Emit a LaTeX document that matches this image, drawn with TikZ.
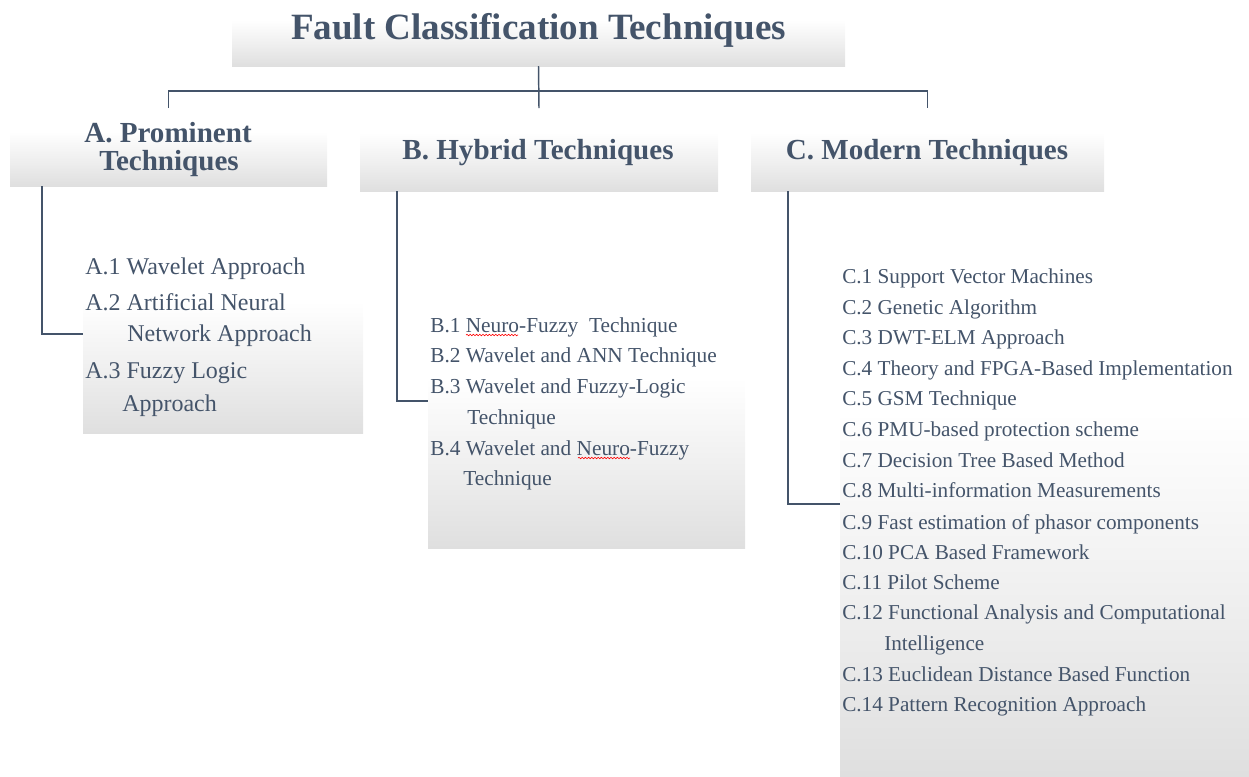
\documentclass[tikz,border=0pt]{standalone}
\usepackage{fontspec}
\setmainfont{Liberation Serif}
\usetikzlibrary{fit,calc,decorations.pathmorphing}
\definecolor{ink}{HTML}{44546A}
\definecolor{boxgray}{HTML}{DFDFDF}
% white over the upper part, then fading softly to light grey at the bottom
\pgfdeclareverticalshading{boxfade}{100bp}{%
  color(0bp)=(boxgray); color(25bp)=(boxgray);
  color(40bp)=(boxgray!55!white); color(60bp)=(white); color(100bp)=(white)}
\tikzset{
  fadebox/.style={inner sep=0pt, outer sep=0pt, draw=none,
    shade, shading=boxfade},
  conn/.style={draw=ink, line width=1.1pt},
  titletext/.style={text=ink, inner sep=0pt, anchor=base,
    font=\fontsize{27.8}{32}\selectfont\bfseries},
  headtext/.style={text=ink, inner sep=0pt, anchor=base,
    font=\fontsize{21.8}{25}\selectfont\bfseries},
  itemA/.style={text=ink, inner sep=0pt, anchor=base west,
    font=\fontsize{18}{22}\selectfont},
  itemB/.style={text=ink, inner sep=0pt, anchor=base west,
    font=\fontsize{16}{19}\selectfont},
  itemC/.style={text=ink, inner sep=0pt, anchor=base west,
    font=\fontsize{15.9}{19}\selectfont},
  spell/.style={draw=red, line width=0.45pt, decorate,
    decoration={snake, amplitude=0.55pt, segment length=2.4pt}}
}
\begin{document}
\begin{tikzpicture}[x=0.75pt, y=-0.75pt]
\useasboundingbox (0,0) rectangle (1249,776);

% shaded boxes
\node[fadebox, fit={(232,0) (845,66)}] (title) {};
\node[fadebox, fit={(10,108) (327,186)}] (ahead) {};
\node[fadebox, fit={(360,108) (718,191)}] (bhead) {};
\node[fadebox, fit={(751,108) (1104,191)}] (chead) {};
\node[fadebox, fit={(83,245) (363,433)}] (alist) {};
\node[fadebox, fit={(428,305) (745,548)}] (blist) {};
\node[fadebox, fit={(840,255) (1249,776)}] (clist) {};

% tree connectors
\draw[conn] (title.south) -- (bhead.north);
\draw[conn] (ahead.north) -- ++(0,-17) -| (chead.north);

\coordinate (aelbow) at (42,334);
\coordinate (belbow) at (397,401);
\coordinate (celbow) at (788,504);
\draw[conn] (ahead.south -| aelbow) -- (aelbow) -- (alist.west |- aelbow);
\draw[conn] (bhead.south -| belbow) -- (belbow) -- (blist.west |- belbow);
\draw[conn] (chead.south -| celbow) -- (celbow) -- (clist.west |- celbow);

% headings
\node[titletext] (ttl) at (538.5,39) {Fault Classification Techniques};
\node[headtext] (ah1) at (168,142) {A. Prominent};
\node[headtext] (ah2) at (169,170) {Techniques};
\node[headtext] (bh) at (538,159) {B. Hybrid Techniques};
\node[headtext] (ch) at (927,159) {C. Modern Techniques};

% list A
\node[itemA] (a1)  at (85,274)  {A.1 Wavelet Approach};
\node[itemA] (a2)  at (85,310)  {A.2 Artificial Neural};
\node[itemA] (a2b) at (127,341) {Network Approach};
\node[itemA] (a3)  at (85,378)  {A.3 Fuzzy Logic};
\node[itemA] (a3b) at (122,411) {Approach};

% list B
\node[itemB] (b1)  at (430,332) {B.1 Neuro-Fuzzy\ \ Technique};
\node[itemB] (b2)  at (430,362) {B.2 Wavelet and ANN Technique};
\node[itemB] (b3)  at (430,393) {B.3 Wavelet and Fuzzy-Logic};
\node[itemB] (b3b) at (467,424) {Technique};
\node[itemB] (b4)  at (430,455) {B.4 Wavelet and Neuro-Fuzzy};
\node[itemB] (b4b) at (463,485) {Technique};
\draw[spell] ([shift={(36,3)}]b1.base west) -- ++(52,0);
\draw[spell] ([shift={(148,3)}]b4.base west) -- ++(52,0);

% list C
\node[itemC] (c1)  at (842,283) {C.1 Support Vector Machines};
\node[itemC] (c2)  at (842,314) {C.2 Genetic Algorithm};
\node[itemC] (c3)  at (842,344) {C.3 DWT-ELM Approach};
\node[itemC] (c4)  at (842,375) {C.4 Theory and FPGA-Based Implementation};
\node[itemC] (c5)  at (842,405) {C.5 GSM Technique};
\node[itemC] (c6)  at (842,436) {C.6 PMU-based protection scheme};
\node[itemC] (c7)  at (842,467) {C.7 Decision Tree Based Method};
\node[itemC] (c8)  at (842,497) {C.8 Multi-information Measurements};
\node[itemC] (c9)  at (842,529) {C.9 Fast estimation of phasor components};
\node[itemC] (c10) at (842,559) {C.10 PCA Based Framework};
\node[itemC] (c11) at (842,589) {C.11 Pilot Scheme};
\node[itemC] (c12) at (842,619) {C.12 Functional Analysis and Computational};
\node[itemC] (c12b) at (884,650) {Intelligence};
\node[itemC] (c13) at (842,681) {C.13 Euclidean Distance Based Function};
\node[itemC] (c14) at (842,711) {C.14 Pattern Recognition Approach};
\end{tikzpicture}
\end{document}
